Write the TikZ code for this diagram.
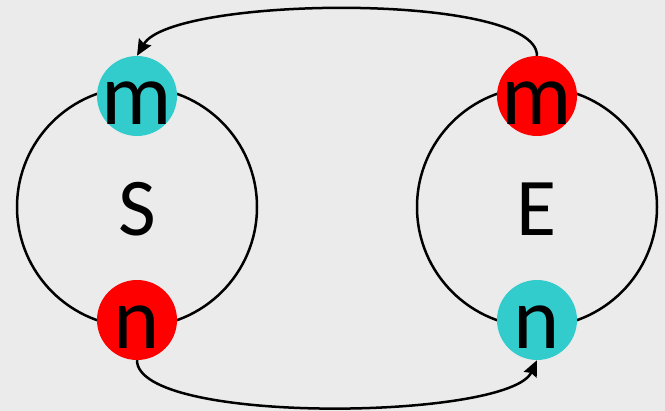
\documentclass[tikz,border=0pt]{standalone}
\usepackage{fontspec}
\setmainfont{Carlito}
\usetikzlibrary{arrows.meta}
\definecolor{paper}{HTML}{EBEBEB}
\definecolor{teal}{HTML}{33CCCC}
\definecolor{hot}{HTML}{FF0000}
\begin{document}
\begin{tikzpicture}[x=1pt,y=-1pt,
  ring/.style={circle,draw=black,line width=2.5pt,minimum size=240pt,inner sep=0pt,
    font=\fontsize{82}{84}\selectfont,text height=58pt,text depth=0pt},
  dot/.style={circle,minimum size=80pt,inner sep=0pt},
  glyph/.style={anchor=base,inner sep=0pt,font=\fontsize{88}{90}\selectfont},
  conn/.style={line width=2.5pt,-{Stealth[length=16pt,width=14pt,inset=2pt]}}]
  \useasboundingbox (0,0) rectangle (665,411);
  \fill[paper] (0,0) rectangle (665,411);
  % the two large rings
  \node[ring] (S) at (137,207) {S};
  \node[ring] (E) at (537,207) {E};
  % coloured markers sitting on the rings
  \node[dot,fill=teal] (Sm) at (137,96) {};
  \node[dot,fill=hot]  (Sn) at (137,320) {};
  \node[dot,fill=hot]  (Em) at (537,96) {};
  \node[dot,fill=teal] (En) at (537,320) {};
  % their letters, set on a common baseline offset
  \node[glyph] (Sm-t) at ([yshift=-29pt]Sm.center) {m};
  \node[glyph] (Sn-t) at ([yshift=-29pt]Sn.center) {n};
  \node[glyph] (Em-t) at ([yshift=-29pt]Em.center) {m};
  \node[glyph] (En-t) at ([yshift=-29pt]En.center) {n};
  % exchange arrows
  \draw[conn] (Em.north) .. controls +(0,-64) and +(35,-60) .. (Sm.north);
  \draw[conn] (Sn.south) .. controls +(0,65) and +(-28,60) .. (En.south);
\end{tikzpicture}
\end{document}
